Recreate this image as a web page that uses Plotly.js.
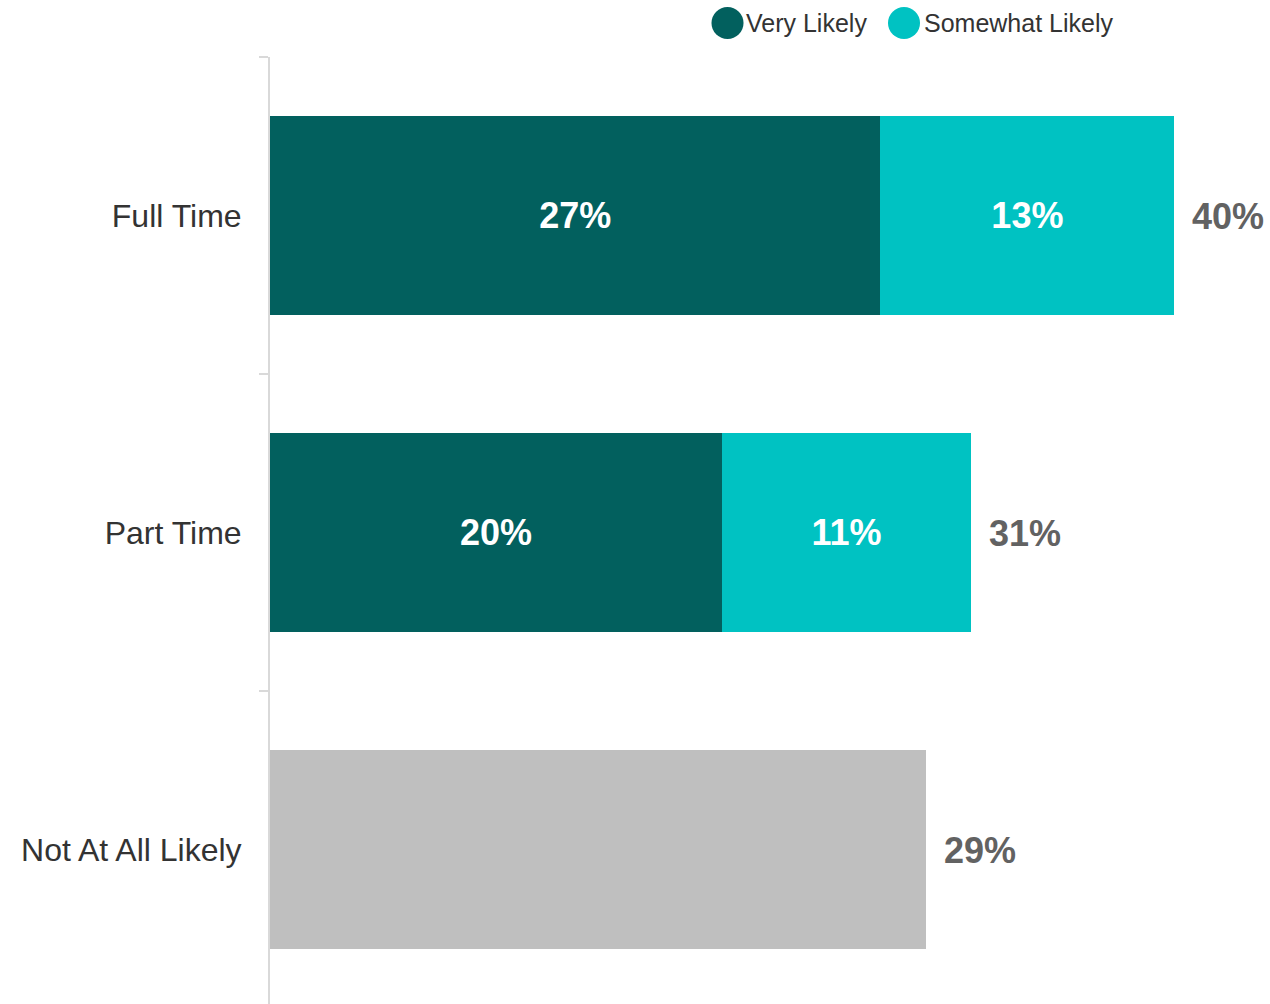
<!DOCTYPE html>
<html>
<head>
<meta charset="utf-8">
<script src="https://cdn.plot.ly/plotly-3.0.1.min.js"></script>
<style>
  html, body { margin: 0; padding: 0; background: #ffffff; overflow: hidden; }
  #chart { width: 1270px; height: 1004px; }
</style>
</head>
<body>
<div id="chart"></div>
<script>
// ---- data ----
var categories = ["Full Time", "Part Time", "Not At All Likely"];
var seriesNames = ["Very Likely", "Somewhat Likely", "Not At All Likely"];
var veryLikely = [27, 20, null];
var somewhatLikely = [13, 11, null];
var notAtAll = [null, null, 29];
var totals = [40, 31, 29];
var totalLabels = ["40%", "31%", "29%"];

// ---- layout geometry ----
var W = 1270, H = 1004;
var mL = 270, mR = 0, mT = 57, mB = 0;
var plotW = W - mL - mR, plotH = H - mT - mB;
function px(x) { return (x - mL) / plotW; }
function py(y) { return 1 - (y - mT) / plotH; }

var FONT = "Liberation Sans, Arial, sans-serif";
var colors = ["#02605E", "#00C2C2", "#BFBFBF"];

function barTrace(vals, name, color) {
  return {
    type: "bar",
    orientation: "h",
    y: categories,
    x: vals,
    name: name,
    marker: { color: color, line: { width: 0 } },
    text: vals.map(function (v) { return v == null ? "" : v + "%"; }),
    texttemplate: "%{text}",
    textposition: color === colors[2] ? "none" : "inside",
    insidetextanchor: "middle",
    constraintext: "none",
    textfont: { family: FONT, size: 36, color: "#FFFFFF", weight: "bold" },
    hoverinfo: "none",
    showlegend: false
  };
}

var data = [
  barTrace(veryLikely, seriesNames[0], colors[0]),
  barTrace(somewhatLikely, seriesNames[1], colors[1]),
  barTrace(notAtAll, seriesNames[2], colors[2])
];

var annotations = totals.map(function (t, i) {
  return {
    x: t, y: categories[i], xref: "x", yref: "y",
    text: totalLabels[i],
    showarrow: false, xanchor: "left", yanchor: "middle",
    xshift: 16, yshift: -1,
    font: { family: FONT, size: 36, color: "#626262", weight: "bold" }
  };
});

// legend (circle swatches + labels)
var legendItems = [
  { cx: 727.5, tx: 744, name: seriesNames[0], color: colors[0] },
  { cx: 904, tx: 922, name: seriesNames[1], color: colors[1] }
];
var shapes = [];
legendItems.forEach(function (it) {
  shapes.push({
    type: "circle", xref: "paper", yref: "paper",
    x0: px(it.cx - 16), x1: px(it.cx + 16),
    y0: py(23 + 16), y1: py(23 - 16),
    fillcolor: it.color, line: { width: 0 }
  });
  annotations.push({
    x: px(it.tx), y: py(23), xref: "paper", yref: "paper",
    text: it.name, showarrow: false, xanchor: "left", yanchor: "middle",
    font: { family: FONT, size: 25, color: "#333333" }
  });
});

var layout = {
  width: W, height: H,
  margin: { l: mL, r: mR, t: mT, b: mB, pad: 0 },
  paper_bgcolor: "#FFFFFF", plot_bgcolor: "#FFFFFF",
  barmode: "stack",
  bargap: 0.374,
  showlegend: false,
  xaxis: { range: [0, 44.23], visible: false, fixedrange: true },
  yaxis: {
    type: "category",
    categoryorder: "array", categoryarray: categories,
    range: [2.488, -0.5],
    showline: true, linecolor: "#D9D9D9", linewidth: 2,
    ticks: "outside", tickson: "boundaries", ticklen: 9, tickwidth: 2, tickcolor: "#D9D9D9",
    ticklabelstandoff: 20,
    showgrid: false, zeroline: false,
    tickfont: { family: FONT, size: 32, color: "#333333" },
    fixedrange: true
  },
  shapes: shapes,
  annotations: annotations,
  font: { family: FONT }
};

Plotly.newPlot("chart", data, layout, { displayModeBar: false, staticPlot: true });
</script>
</body>
</html>
